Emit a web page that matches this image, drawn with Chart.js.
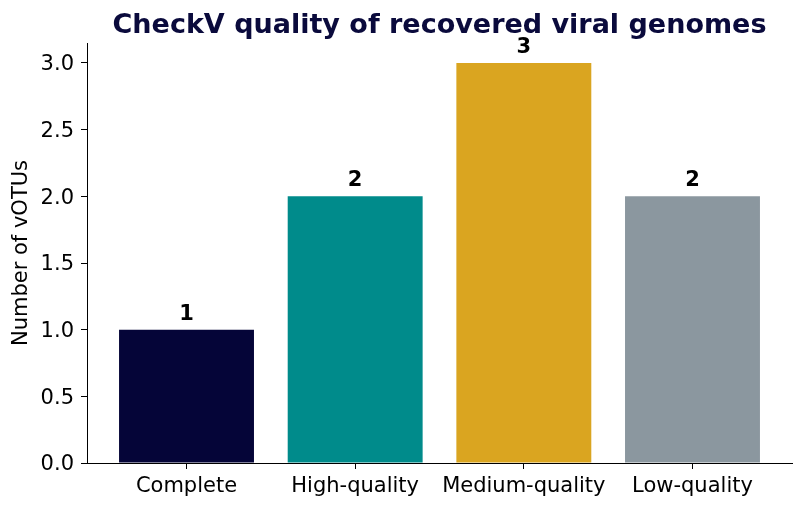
<!DOCTYPE html>
<html>
<head>
<meta charset="utf-8">
<script src="https://cdn.jsdelivr.net/npm/chart.js@4.4.0/dist/chart.umd.min.js"></script>
<style>
html,body{margin:0;padding:0;background:#fff}
canvas{display:block}
</style>
</head>
<body>
<canvas id="chart" width="805" height="509"></canvas>
<script>
// CheckV quality categories and counts
const categories=["Complete","High-quality","Medium-quality","Low-quality"]
const counts=[1,2,3,2]
const barColors=["#050538","#008B8B","#DAA520","#8B979F"]
const yTicks=[0,0.5,1,1.5,2,2.5,3]
const titleText="CheckV quality of recovered viral genomes"

const FONT="'DejaVu Sans', sans-serif"

// value labels above bars + title centred over the plot area
const extras={
id:"extras",
afterDatasetsDraw(chart){
const ctx=chart.ctx
const meta=chart.getDatasetMeta(0)
ctx.save()
ctx.font="bold 21px "+FONT
ctx.fillStyle="#000"
ctx.textAlign="center"
ctx.textBaseline="alphabetic"
meta.data.forEach((bar,i)=>{
ctx.fillText(String(counts[i]),bar.x,bar.y-10)
})
const a=chart.chartArea
ctx.font="bold 27px "+FONT
ctx.fillStyle="#0a0a3c"
ctx.fillText(titleText,(a.left+a.right)/2,33)
ctx.restore()
}
}

new Chart(document.getElementById("chart"),{
type:"bar",
data:{
datasets:[{
data:counts.map((v,i)=>({x:i,y:v})),
backgroundColor:barColors,
borderWidth:0,
barPercentage:0.8,
categoryPercentage:1
}]
},
options:{
responsive:false,
animation:false,
devicePixelRatio:1,
layout:{padding:{left:0,right:13,top:43,bottom:0}},
plugins:{
legend:{display:false},
tooltip:{enabled:false},
title:{display:false}
},
scales:{
x:{
type:"linear",
offset:false,
min:-0.59,
max:3.59,
afterBuildTicks(scale){
scale.ticks=categories.map((c,i)=>({value:i}))
},
afterFit(scale){scale.height=46},
ticks:{
callback:(v)=>categories[v],
color:"#000",
font:{family:FONT,size:21},
padding:5,
autoSkip:false,
maxRotation:0
},
grid:{display:true,offset:false,drawOnChartArea:false,tickLength:6,color:"#000"},
border:{display:true,color:"#000",width:1}
},
y:{
min:0,
max:3.15,
afterBuildTicks(scale){
scale.ticks=yTicks.map(v=>({value:v}))
},
afterFit(scale){scale.width=87},
ticks:{
callback:(v)=>v.toFixed(1),
color:"#000",
font:{family:FONT,size:21},
padding:7,
labelOffset:2
},
title:{
display:true,
text:"Number of vOTUs",
color:"#000",
font:{family:FONT,size:21},
padding:{top:9,bottom:0}
},
grid:{display:true,drawOnChartArea:false,tickLength:6,color:"#000"},
border:{display:true,color:"#000",width:1}
}
}
},
plugins:[extras]
})
</script>
</body>
</html>
